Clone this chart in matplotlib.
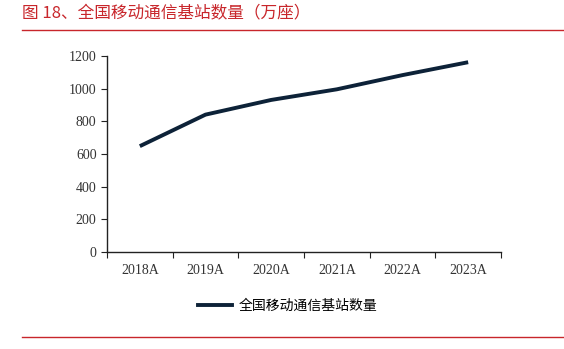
import numpy as np
import matplotlib.pyplot as plt
from matplotlib.lines import Line2D

plt.rcParams['font.family'] = ['Liberation Serif', 'Noto Sans CJK SC', 'DejaVu Sans']

years = ["2018A", "2019A", "2020A", "2021A", "2022A", "2023A"]
stations = [648, 841, 931, 996, 1083, 1162]

RED = "#c8262b"
NAVY = "#0d2238"

fig = plt.figure(figsize=(5.64, 3.49), dpi=100)
ax = fig.add_axes([107 / 564, 97 / 349, 394 / 564, 196 / 349])

x = np.arange(len(years))
ax.plot(x, stations, color=NAVY, linewidth=2.8, solid_capstyle="butt")

ax.set_xlim(-0.5, len(years) - 0.5)
ax.set_ylim(0, 1200)
ax.set_yticks(range(0, 1201, 200))
ax.set_xticks(np.arange(-0.5, len(years), 1.0))
ax.set_xticklabels([])
ax.set_xticks(x, minor=True)
ax.set_xticklabels(years, minor=True)
ax.tick_params(axis="x", which="minor", length=0, pad=9, labelsize=10, colors="#333333")
ax.tick_params(axis="x", which="major", length=4, direction="out", color="#222222")
ax.tick_params(axis="y", length=4, direction="out", labelsize=10, colors="#333333")
ax.tick_params(axis="y", color="#222222")
for s in ["top", "right"]:
    ax.spines[s].set_visible(False)
for s in ["left", "bottom"]:
    ax.spines[s].set_color("#222222")
    ax.spines[s].set_linewidth(1.0)

# title and red rules
fig.text(22 / 564, 1 - 14 / 349, "图 18、全国移动通信基站数量（万座）", color=RED, fontsize=12,
         family=["Noto Sans CJK SC", "DejaVu Sans"], va="center", ha="left")
fig.add_artist(Line2D([22 / 564, 1], [1 - 30 / 349] * 2, color=RED, linewidth=1.0))
fig.add_artist(Line2D([22 / 564, 1], [1 - 337 / 349] * 2, color=RED, linewidth=1.0))

# legend
handle = Line2D([], [], color=NAVY, linewidth=2.8)
fig.legend([handle], ["全国移动通信基站数量"], loc="center", bbox_to_anchor=(288 / 564, 1 - 306 / 349),
           frameon=False, handlelength=2.4, handletextpad=0.5,
           prop={"family": ["Noto Sans CJK SC", "DejaVu Sans"], "size": 10})

fig.savefig("out.png", dpi=100)
